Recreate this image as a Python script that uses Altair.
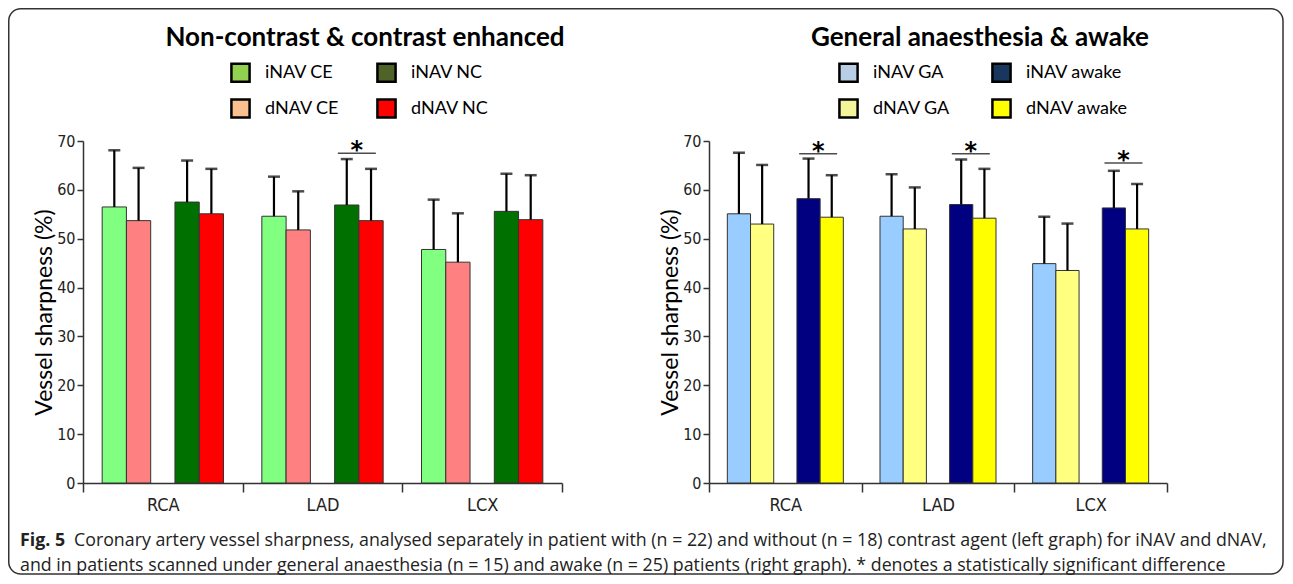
import altair as alt
import pandas as pd

categories = ["RCA", "LAD", "LCX"]

# ---- left graph: contrast enhanced (CE) vs non-contrast (NC)
left_series = ["iNAV CE", "dNAV CE", "iNAV NC", "dNAV NC"]
left_mean = {
    "iNAV CE": [56.5, 54.6, 47.8],
    "dNAV CE": [53.7, 51.8, 45.2],
    "iNAV NC": [57.5, 56.9, 55.6],
    "dNAV NC": [55.1, 53.7, 53.9],
}
left_sd = {
    "iNAV CE": [11.6, 8.1, 10.2],
    "dNAV CE": [10.8, 7.9, 10.0],
    "iNAV NC": [8.5, 9.4, 7.7],
    "dNAV NC": [9.2, 10.6, 9.1],
}
left_bar_colors = ["#80ff80", "#ff8080", "#007000", "#ff0000"]
left_legend_colors = ["#92d050", "#fac090", "#4f6228", "#ff0000"]
left_sig_categories = ["LAD"]
left_sig_levels = [67.5]

# ---- right graph: general anaesthesia (GA) vs awake
right_series = ["iNAV GA", "dNAV GA", "iNAV awake", "dNAV awake"]
right_mean = {
    "iNAV GA": [55.1, 54.6, 44.9],
    "dNAV GA": [53.0, 52.0, 43.5],
    "iNAV awake": [58.2, 57.0, 56.3],
    "dNAV awake": [54.4, 54.2, 52.0],
}
right_sd = {
    "iNAV GA": [12.5, 8.6, 9.6],
    "dNAV GA": [12.1, 8.5, 9.6],
    "iNAV awake": [8.2, 9.2, 7.6],
    "dNAV awake": [8.6, 10.1, 9.2],
}
right_bar_colors = ["#99ccff", "#ffff80", "#000080", "#ffff00"]
right_legend_colors = ["#b9cde5", "#f3f59b", "#17375e", "#ffff00"]
right_sig_categories = ["RCA", "LAD", "LCX"]
right_sig_levels = [67.4, 67.4, 65.5]

titles = ["Non-contrast & contrast enhanced", "General anaesthesia & awake"]
caption_bold = ["Fig. 5"]
caption_lines = [
    "Coronary artery vessel sharpness, analysed separately in patient with (n = 22) and without (n = 18) contrast agent (left graph) for iNAV and dNAV,",
    "and in patients scanned under general anaesthesia (n = 15) and awake (n = 25) patients (right graph). * denotes a statistically significant difference",
]

AXIS_FONT = "DejaVu Sans Condensed, Liberation Sans Narrow, DejaVu Sans"
TEXT_FONT = "Lato"
CAP_FONT = "Open Sans"
CAP_SIZE = 17.8
PLOT_H = 342
SIG_CENTER = 0.715   # horizontal centre of the significance bar inside a group
SIG_DOMAIN = [0, 1]


def long_table(series, mean, sd):
    rows = []
    for s in series:
        for c, m, e in zip(categories, mean[s], sd[s]):
            rows.append({"category": c, "series": s, "mean": m, "sd": e})
    return pd.DataFrame(rows)


def panel(series, mean, sd, bar_colors, legend_colors, sig_cats, sig_levels,
          title, width, legend_x, legend_colpad, title_x, extra=None):
    df = long_table(series, mean, sd)
    slot_domain = [series[0], series[1], "gap", series[2], series[3]]

    x = alt.X("category:N", sort=categories,
              scale=alt.Scale(paddingInner=0, paddingOuter=0),
              axis=alt.Axis(title=None, tickBand="extent", labelAngle=0,
                            labelFont=AXIS_FONT, labelFontSize=18,
                            labelPadding=4, tickSize=9))
    xo = alt.XOffset("series:N",
                     scale=alt.Scale(domain=slot_domain, paddingOuter=0.79,
                                     paddingInner=0))
    y_axis = alt.Axis(values=list(range(0, 71, 10)), title="Vessel sharpness (%)",
                      labelFont=AXIS_FONT, labelFontSize=16, labelPadding=2,
                      tickSize=6, titleFont=TEXT_FONT, titleFontSize=23,
                      titleFontWeight="normal", titlePadding=0)
    yscale = alt.Scale(domain=[0, 70], nice=False)

    base = alt.Chart(df)
    bars = base.mark_bar(stroke="#333333", strokeWidth=1).encode(
        x=x, xOffset=xo,
        y=alt.Y("mean:Q", scale=yscale, axis=y_axis),
        color=alt.Color("series:N", scale=alt.Scale(domain=series, range=bar_colors),
                        legend=None),
    )
    err = base.transform_calculate(upper="datum.mean + datum.sd").mark_rule(
        color="black", strokeWidth=2.2).encode(
        x=x, xOffset=xo, y=alt.Y("mean:Q"), y2="upper:Q")
    cap = base.transform_calculate(upper="datum.mean + datum.sd").mark_tick(
        color="black", thickness=2.5, size=12).encode(
        x=x, xOffset=xo, y=alt.Y("upper:Q"))

    sig = pd.DataFrame({"category": sig_cats, "level": sig_levels,
                        "pos": [SIG_CENTER] * len(sig_cats),
                        "star": ["*"] * len(sig_cats)})
    so = alt.XOffset("pos:Q", scale=alt.Scale(domain=SIG_DOMAIN))
    sig_line = alt.Chart(sig).mark_tick(color="black", thickness=1.5, size=38).encode(
        x=x, xOffset=so, y=alt.Y("level:Q"))
    sig_star = alt.Chart(sig).mark_text(font="DejaVu Sans", fontSize=24,
                                        fontWeight="bold", dy=5,
                                        baseline="alphabetic",
                                        color="black").encode(
        x=x, xOffset=so, y=alt.Y("level:Q"), text="star:N")
    sig_layer = alt.layer(sig_line, sig_star)

    leg_df = pd.DataFrame({"label": series})
    legend_layer = alt.Chart(leg_df).mark_square(opacity=0).encode(
        fill=alt.Fill("label:N",
                      scale=alt.Scale(domain=series, range=legend_colors),
                      legend=alt.Legend(orient="none", legendX=legend_x, legendY=-79,
                                        columns=2, title=None, symbolType="square",
                                        symbolSize=330, symbolStrokeColor="black",
                                        symbolStrokeWidth=2.5, symbolOpacity=1,
                                        labelFont=TEXT_FONT, labelFontSize=18,
                                        labelColor="black", labelOffset=14,
                                        columnPadding=legend_colpad, rowPadding=7)))

    head = alt.Chart(pd.DataFrame({"t": [title]})).mark_text(
        font=TEXT_FONT, fontSize=26, fontWeight="bold", color="black",
        align="center", baseline="middle").encode(
        x=alt.value(title_x), y=alt.value(-103), text="t:N")

    main = alt.layer(bars, err, cap)
    layers = [main, sig_layer, legend_layer, head]
    if extra:
        layers += extra
    return alt.layer(*layers).properties(width=width, height=PLOT_H).resolve_scale(
        color="independent", fill="independent", xOffset="independent")


frame = alt.Chart(pd.DataFrame({"k": [0]})).mark_rect(
    fillOpacity=0, stroke="#333333", strokeWidth=1.5, cornerRadius=12).encode(
    x=alt.value(-74.25), x2=alt.value(1200), y=alt.value(-132.25), y2=alt.value(433))

cap_bold = alt.Chart(pd.DataFrame({"t": caption_bold})).mark_text(
    align="left", baseline="middle", font=CAP_FONT, fontSize=CAP_SIZE,
    fontWeight="bold", color="#222222").encode(
    x=alt.value(-63), y=alt.value(400), text="t:N")
cap1 = alt.Chart(pd.DataFrame({"t": caption_lines[:1]})).mark_text(
    align="left", baseline="middle", font=CAP_FONT, fontSize=CAP_SIZE,
    color="#222222").encode(x=alt.value(-9), y=alt.value(400), text="t:N")
cap2 = alt.Chart(pd.DataFrame({"t": caption_lines[1:]})).mark_text(
    align="left", baseline="middle", font=CAP_FONT, fontSize=CAP_SIZE,
    color="#222222").encode(x=alt.value(-63), y=alt.value(425), text="t:N")

left = panel(left_series, left_mean, left_sd, left_bar_colors, left_legend_colors,
             left_sig_categories, left_sig_levels, titles[0], 479,
             legend_x=147, legend_colpad=32, title_x=282,
             extra=[frame, cap_bold, cap1, cap2])
right = panel(right_series, right_mean, right_sd, right_bar_colors,
              right_legend_colors, right_sig_categories, right_sig_levels,
              titles[1], 458, legend_x=129, legend_colpad=37, title_x=271)

chart = alt.hconcat(left, right, spacing=147, bounds="flush").resolve_scale(
    x="independent", y="independent", xOffset="independent",
    color="independent", fill="independent"
).properties(padding=0).configure_view(stroke=None).configure_axis(
    grid=False, domainColor="#333333", domainWidth=1.5, tickColor="#333333",
    tickWidth=1.5, labelColor="#222222", titleColor="black")

chart.save("out.html", embed_options={"renderer": "svg", "actions": False})
